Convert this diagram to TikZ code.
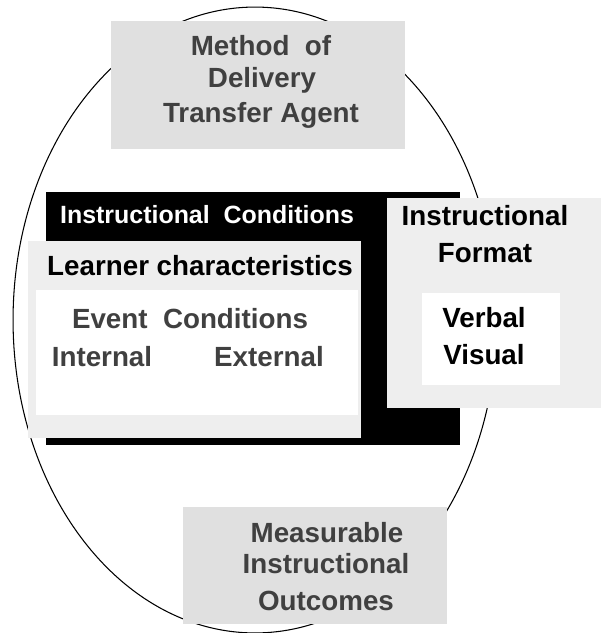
\documentclass[tikz,border=0pt]{standalone}
\usepackage{fontspec}
\setmainfont{Liberation Sans}
\usepackage{xcolor}
\usetikzlibrary{positioning}

\definecolor{boxgray}{HTML}{E0E0E0}
\definecolor{panelgray}{HTML}{EEEEEE}
\definecolor{textgray}{HTML}{404040}

\begin{document}
\begin{tikzpicture}[x=0.02cm, y=-0.02cm]
    % Define styles for the boxes and labels
    \tikzstyle{panel} = [rectangle, anchor=north west, inner sep=0pt, outer sep=0pt]
    \tikzstyle{caption} = [anchor=base, inner sep=0pt, font=\bfseries\fontsize{15.8}{19}\selectfont]

    \useasboundingbox (0,0) rectangle (601,633);

    % Outer ellipse
    \draw[line width=0.6pt] (255,320) ellipse [x radius=4.84cm, y radius=6.26cm];

    % Boxes
    \node [panel, fill=boxgray, minimum width=5.88cm, minimum height=2.56cm] (delivery) at (111,21) {};
    \node [panel, fill=black, minimum width=8.28cm, minimum height=5.06cm] (conditions) at (46,192) {};
    \node [panel, fill=panelgray, minimum width=6.66cm, minimum height=3.94cm] (learner) at (28,241) {};
    \node [panel, fill=white, minimum width=6.44cm, minimum height=2.50cm] (event) at (36,290) {};
    \node [panel, fill=panelgray, minimum width=4.28cm, minimum height=4.20cm] (format) at (387,198) {};
    \node [panel, fill=white, minimum width=2.76cm, minimum height=1.84cm] (modes) at (422,293) {};
    \node [panel, fill=boxgray, minimum width=5.28cm, minimum height=2.34cm] (outcomes) at (183,507) {};

    % Labels of the top box
    \node [caption, text=textgray] (method) at (261,55) {Method\ \ of};
    \node [caption, text=textgray] (delivtext) at (262,87) {Delivery};
    \node [caption, text=textgray] (agent) at (261,122) {Transfer Agent};

    % Labels of the conditions
    \node [caption, text=white, font=\bfseries\fontsize{14.2}{17}\selectfont] (condtext) at (207,223) {Instructional\ \ Conditions};
    \node [caption] (learntext) at (200,275) {Learner characteristics};
    \node [caption, text=textgray] (eventtext) at (190,328) {Event\ \ Conditions};
    \node [caption, text=textgray] (internal) at (102,366) {Internal};
    \node [caption, text=textgray] (external) at (269,366) {External};

    % Labels of the format
    \node [caption] (formtext) at (485,225) {Instructional};
    \node [caption] (formtext2) at (485,262) {Format};
    \node [caption] (verbal) at (484,327) {Verbal};
    \node [caption] (visual) at (484,364) {Visual};

    % Labels of the outcomes
    \node [caption, text=textgray] (measure) at (327,542) {Measurable};
    \node [caption, text=textgray] (instr) at (326,573) {Instructional};
    \node [caption, text=textgray] (outtext) at (326,610) {Outcomes};
\end{tikzpicture}
\end{document}
